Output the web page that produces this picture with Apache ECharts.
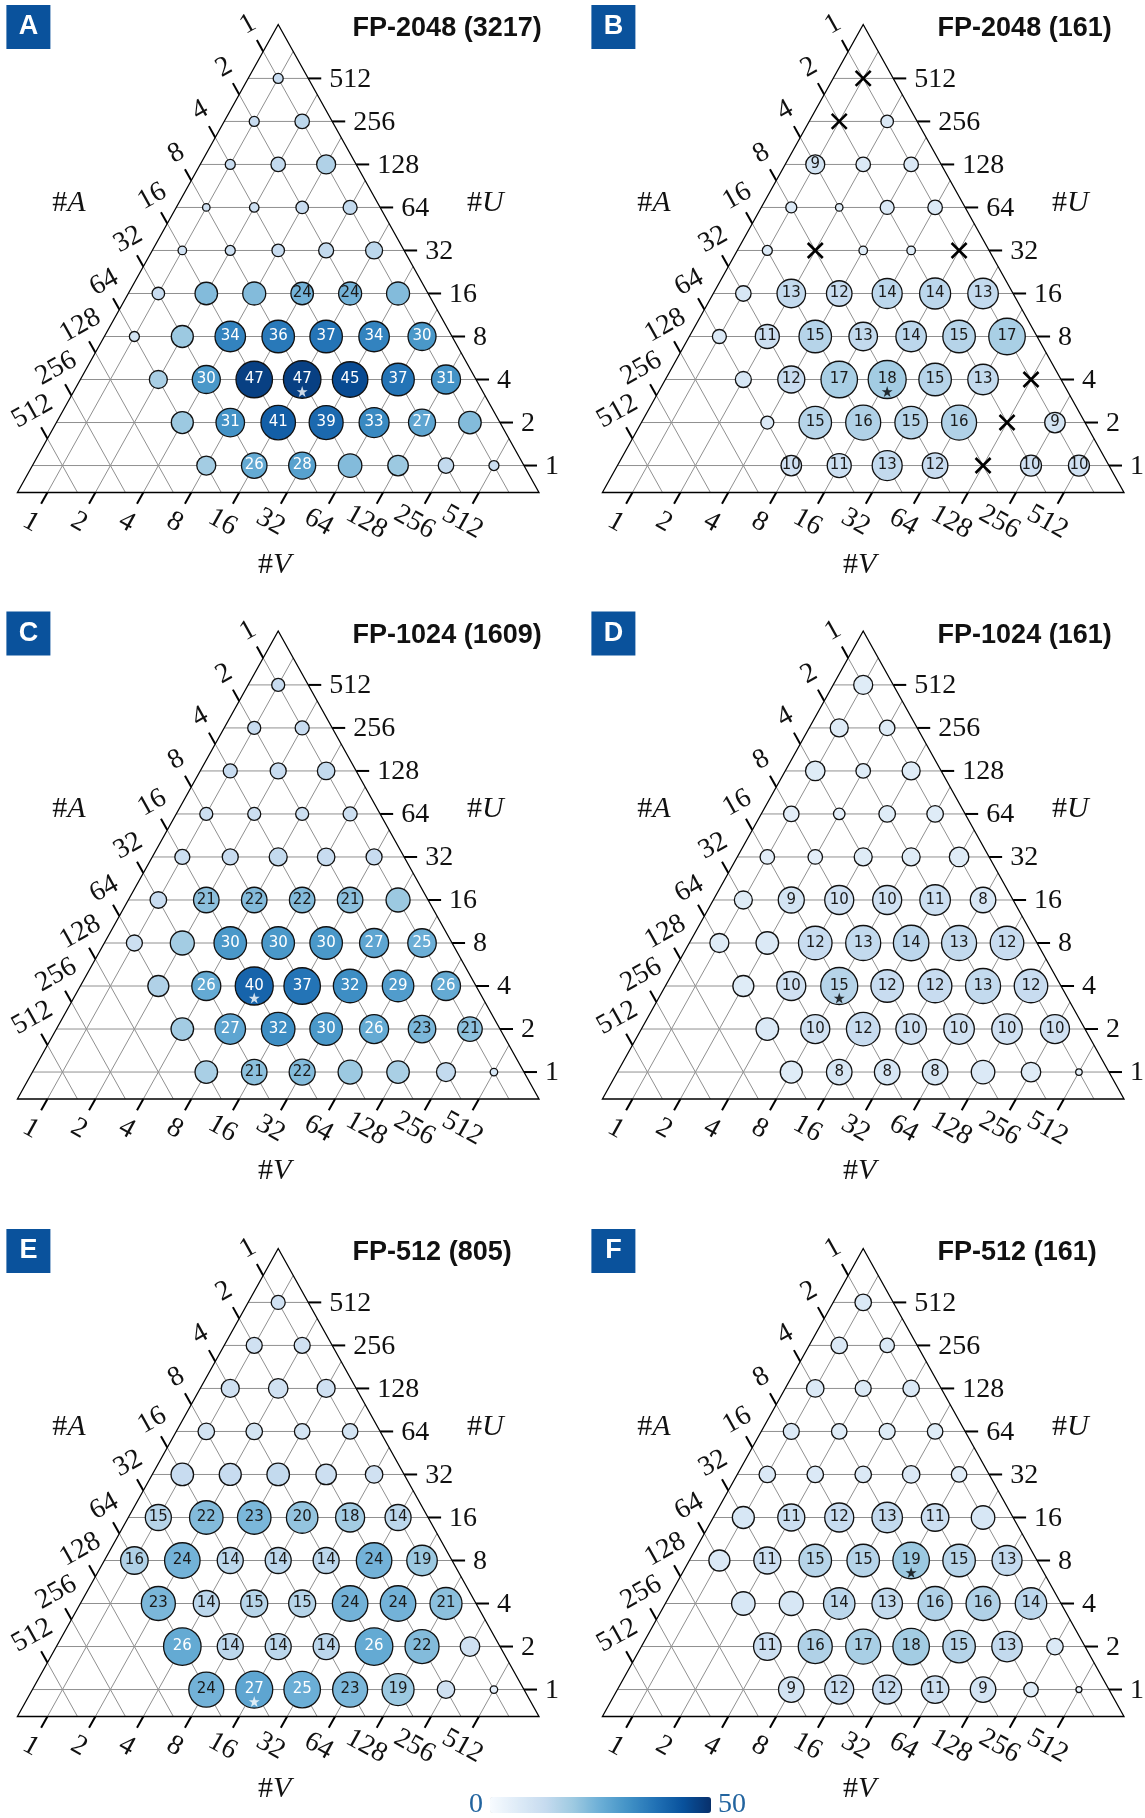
<!DOCTYPE html>
<html>
<head>
<meta charset="utf-8">
<script src="https://cdn.jsdelivr.net/npm/echarts@6/dist/echarts.min.js"></script>
<style>
  html, body { margin: 0; padding: 0; background: #ffffff; }
  #chart { width: 1145px; height: 1818px; }
</style>
</head>
<body>
<div id="chart"></div>
<script>
// Tick labels shared by the three ternary axes (#A, #U, #V), powers of two.
const TICK_LABELS = ['1', '2', '4', '8', '16', '32', '64', '128', '256', '512'];
const EXP_MAX = 9;          // log2(512): exponents of #A, #U, #V add up to this
const MIN_UV = 3;           // cells need log2(#U) + log2(#V) >= 3
// log2(#U) of each row, top to bottom
const ROW_U = [9, 8, 7, 6, 5, 4, 3, 2, 1, 0];

const PANEL_LETTERS = ['A', 'B', 'C', 'D', 'E', 'F'];
const PANEL_TITLES = ['FP-2048 (3217)', 'FP-2048 (161)', 'FP-1024 (1609)',
                      'FP-1024 (161)', 'FP-512 (805)', 'FP-512 (161)'];

// Cell values per row (left to right, increasing #V); null = infeasible cell (cross)
const A_VALUES = [
  [12], [12, 14], [12, 13, 16], [10, 11, 12, 13], [10, 11, 12, 13, 14],
  [12, 22, 22, 24, 24, 22], [9, 19, 34, 36, 37, 34, 30], [17, 30, 47, 47, 45, 37, 31],
  [19, 31, 41, 39, 33, 27, 22], [18, 26, 28, 22, 19, 13, 11]
];
const A_SIZES = [
  [10], [10, 14.5], [10, 14.5, 19], [7.5, 9.5, 12.5, 14], [8.5, 10, 12.5, 15, 17],
  [12.5, 22.5, 23, 22.5, 23, 23], [10, 22, 30.5, 32.5, 32.5, 30.5, 28],
  [18, 28, 36.5, 37.5, 35.5, 32.5, 29], [22, 28.5, 34.5, 34, 30, 27, 22.5],
  [19, 25.5, 27, 23.5, 20.5, 15.5, 10]
];

const B_VALUES = [
  [null], [null, 7], [9, 7, 7], [7, 6, 7, 7], [7, null, 6, 6, null],
  [8, 13, 12, 14, 14, 13], [7, 11, 15, 13, 14, 15, 17], [8, 12, 17, 18, 15, 13, null],
  [7, 15, 16, 15, 16, null, 9], [10, 11, 13, 12, null, 10, 10]
];
const B_SIZES = [
  [0], [0, 12.5], [19, 14.5, 14.5], [11, 7.5, 14, 14.5], [10, 0, 8.5, 8.5, 0],
  [15.5, 28.5, 25.5, 30, 31, 30.5], [14, 24, 32.5, 28.5, 30.5, 32.5, 36.5],
  [16, 27, 36.5, 38, 32.5, 30.5, 0], [13, 32.5, 35, 32.5, 35, 0, 20.5],
  [20.5, 24, 30, 25.5, 0, 21, 21]
];

const C_VALUES = [
  [12], [12, 12], [12, 12, 13], [11, 11, 11, 11], [11, 12, 13, 12, 12],
  [12, 21, 22, 22, 21, 19], [11, 18, 30, 30, 30, 27, 25], [16, 26, 40, 37, 32, 29, 26],
  [18, 27, 32, 30, 26, 23, 21], [17, 21, 22, 19, 17, 13, 8]
];
const C_SIZES = [
  [13], [13, 14], [14, 16, 17.5], [13, 13, 13, 14], [15, 16, 18, 17.5, 16],
  [16.5, 25.5, 25.5, 25.5, 25.5, 24], [16, 24, 32.5, 32.5, 32.5, 29, 28.5],
  [21, 29, 38, 36.5, 33.5, 31.5, 29], [22.5, 30.5, 33.5, 32.5, 29, 27.5, 24.5],
  [22.5, 25.5, 26, 24, 22.5, 19, 7.5]
];

const D_VALUES = [
  [6], [6, 6], [6, 6, 6], [5, 5, 6, 6], [5, 5, 6, 6, 6],
  [6, 9, 10, 10, 11, 8], [6, 7, 12, 13, 14, 13, 12], [6, 10, 15, 12, 12, 13, 12],
  [7, 10, 12, 10, 10, 10, 10], [6, 8, 8, 8, 7, 6, 4]
];
const D_SIZES = [
  [19], [18, 15.5], [19.5, 14.5, 18], [15.5, 11.5, 16.5, 16.5], [14.5, 14.5, 18, 18, 19.5],
  [18, 26, 29, 29, 30.5, 25.5], [19, 22.5, 33.5, 35, 35.5, 35, 33.5],
  [21, 29, 37, 32.5, 33.5, 35, 33.5], [22.5, 29, 33.5, 30.5, 30.5, 30.5, 29],
  [22, 25.5, 25.5, 25.5, 23.5, 19.5, 6.5]
];

const E_VALUES = [
  [10], [10, 10], [10, 10, 10], [9, 9, 9, 9], [12, 12, 13, 11, 10],
  [15, 22, 23, 20, 18, 14], [16, 24, 14, 14, 14, 24, 19], [23, 14, 15, 15, 24, 24, 21],
  [26, 14, 14, 14, 26, 22, 10], [24, 27, 25, 23, 19, 10, 5]
];
const E_SIZES = [
  [14], [16, 16], [18, 19.5, 18], [16.5, 16.5, 15.5, 15.5], [22.5, 22, 22.5, 20.5, 17.5],
  [26, 33.5, 33.5, 31.5, 29, 26], [27.5, 35.5, 26, 26, 26, 35.5, 30.5],
  [34, 26, 27, 27, 35.5, 35.5, 32], [37.5, 26, 26, 26, 37.5, 34, 19.5],
  [35, 37, 36.5, 35, 32, 17.5, 7.5]
];

const F_VALUES = [
  [7], [7, 7], [7, 7, 7], [7, 6, 6, 6], [7, 7, 7, 7, 6],
  [8, 11, 12, 13, 11, 8], [7, 11, 15, 15, 19, 15, 13], [8, 8, 14, 13, 16, 16, 14],
  [11, 16, 17, 18, 15, 13, 7], [9, 12, 12, 11, 9, 6, 3]
];
const F_SIZES = [
  [16.5], [16.5, 14.5], [17.5, 16, 16.5], [16, 15.5, 16, 15.5], [16.5, 16.5, 16.5, 17.5, 15.5],
  [22, 27, 29, 30.5, 27.5, 23.5], [21, 27, 32.5, 32.5, 36.5, 32.5, 30],
  [23.5, 24, 31.5, 30.5, 34, 34, 31.5], [27.5, 34, 35, 36.5, 32.5, 30.5, 16.5],
  [25.5, 29, 29, 27.5, 25.5, 14.5, 6]
];

// Smallest value that gets a number printed in its circle
const LABEL_MIN = [24, 9, 21, 8, 14, 9];
// Starred (best) cell of each panel: [log2 #U, log2 #V]
const BEST = [[2, 4], [2, 4], [2, 3], [2, 3], [0, 4], [3, 4]];
const STAR_COLORS = ['#ffffff', '#000000', '#ffffff', '#000000', '#ffffff', '#000000'];

const COLOR_MIN = 0, COLOR_MAX = 50;
const BLUES = ['#f7fbff', '#deebf7', '#c6dbef', '#9ecae1', '#6baed6',
               '#4292c6', '#2171b5', '#08519c', '#08306b'];

const VALUES = [A_VALUES, B_VALUES, C_VALUES, D_VALUES, E_VALUES, F_VALUES];
const SIZES = [A_SIZES, B_SIZES, C_SIZES, D_SIZES, E_SIZES, F_SIZES];

// ---- layout ----
const L = 10.88;                    // triangle side in exponent units
const OFF = (L - EXP_MAX) / 3;      // inset of the exponent-0 grid line from each edge
const TRI_W = 521.6, TRI_H = 468;
const COL_X = [17.4, 602.4];
const ROW_Y = [24.5, 631, 1248.5];
const TICK_LEN = 13;
const SERIF = '"Liberation Serif", "DejaVu Serif", serif';
const SANS = '"Liberation Sans", Arial, sans-serif';
const GRID_STYLE = { stroke: '#909090', lineWidth: 1, fill: null };
const TICK_STYLE = { stroke: '#000000', lineWidth: 2, fill: null };

// ternary exponents -> cartesian data coordinates of the panel
function tern(u, v) {
  const up = u + OFF, vp = v + OFF;
  return [up / 2 + vp, up];
}

function seg(a, b, style) {
  return { type: 'line', shape: { x1: a[0], y1: a[1], x2: b[0], y2: b[1] }, style: style };
}
function unit(a, b) {
  const dx = b[0] - a[0], dy = b[1] - a[1], n = Math.hypot(dx, dy);
  return [dx / n, dy / n];
}
function tickText(s, x, y, rot, align) {
  return {
    type: 'text', x: x, y: y, rotation: rot,
    style: { text: s, fontSize: 28, fontFamily: SERIF, fill: '#111111',
             align: align, verticalAlign: 'middle' }
  };
}

// grid lines, ticks and tick labels for exponent k on all three axes
function frameItem(params, api) {
  const k = api.value(0);
  const t = k + OFF;
  const P = (x, y) => api.coord([x, y]);
  const out = [];
  out.push(seg(P(t / 2, t), P(L - t / 2, t), GRID_STYLE));               // constant #U
  out.push(seg(P(t, 0), P(t + (L - t) / 2, L - t), GRID_STYLE));         // constant #V
  out.push(seg(P(L - t, 0), P((L - t) / 2, L - t), GRID_STYLE));         // constant #A

  // #U on the right edge
  const r = P(L - t / 2, t);
  out.push(seg(r, [r[0] + TICK_LEN, r[1]], TICK_STYLE));
  out.push(tickText(TICK_LABELS[k], r[0] + TICK_LEN + 8, r[1] + 1, 0, 'left'));

  // #V on the bottom edge
  const b = P(t, 0);
  const db = unit(b, P(t - 0.5, -1));
  out.push(seg(b, [b[0] + db[0] * TICK_LEN, b[1] + db[1] * TICK_LEN], TICK_STYLE));
  out.push(tickText(TICK_LABELS[k], b[0] + db[0] * 34, b[1] + db[1] * 34,
                    -Math.atan2(-db[0], db[1]), 'center'));

  // #A on the left edge
  const lx = (L - t) / 2, ly = L - t;
  const l = P(lx, ly);
  const dl = unit(l, P(lx - 0.5, ly + 1));
  out.push(seg(l, [l[0] + dl[0] * TICK_LEN, l[1] + dl[1] * TICK_LEN], TICK_STYLE));
  out.push(tickText(TICK_LABELS[k], l[0] + dl[0] * 31, l[1] + dl[1] * 31,
                    -Math.atan2(dl[0], -dl[1]), 'center'));
  return { type: 'group', children: out };
}

function outlineItem(params, api) {
  const p = [api.coord([0, 0]), api.coord([L, 0]), api.coord([L / 2, L])];
  return { type: 'polygon', shape: { points: p },
           style: { stroke: '#000000', lineWidth: 1.3, fill: null } };
}

function crossItem(params, api) {
  const c = api.coord([api.value(0), api.value(1)]);
  const h = 7.5, st = { stroke: '#000000', lineWidth: 2.6, fill: null };
  return { type: 'group', children: [
    seg([c[0] - h, c[1] - h], [c[0] + h, c[1] + h], st),
    seg([c[0] - h, c[1] + h], [c[0] + h, c[1] - h], st)
  ] };
}

const STAR_PATH = 'path://M50,0 L61.8,35.1 L98.9,35.1 L68.9,56.8 L80.3,91.9 L50,70.2 L19.7,91.9 L31.1,56.8 L1.1,35.1 L38.2,35.1 Z';

const grids = [], xAxes = [], yAxes = [], series = [], graphics = [], circleSeries = [];

PANEL_LETTERS.forEach(function (letter, i) {
  const px = COL_X[i % 2], py = ROW_Y[Math.floor(i / 2)];
  grids.push({ left: px, top: py, width: TRI_W, height: TRI_H });
  xAxes.push({ gridIndex: i, type: 'value', min: 0, max: L, show: false });
  yAxes.push({ gridIndex: i, type: 'value', min: 0, max: L, show: false });

  series.push({
    type: 'custom', xAxisIndex: i, yAxisIndex: i, clip: false, z: 1, silent: true,
    data: TICK_LABELS.map(function (s, k) { return [k, 0]; }),
    renderItem: frameItem
  });
  series.push({
    type: 'custom', xAxisIndex: i, yAxisIndex: i, clip: false, z: 2, silent: true,
    data: [[0, 0]], renderItem: outlineItem
  });

  const circles = [], crosses = [];
  VALUES[i].forEach(function (row, r) {
    const u = ROW_U[r];
    row.forEach(function (val, j) {
      const v = Math.max(0, MIN_UV - u) + j;
      const xy = tern(u, v);
      if (val === null) { crosses.push(xy); return; }
      const labelled = val >= LABEL_MIN[i];
      circles.push({
        value: [xy[0], xy[1], val, SIZES[i][r][j]],
        label: { show: labelled, color: val >= 25 ? '#ffffff' : '#1a1a1a' }
      });
    });
  });

  circleSeries.push(series.length);
  series.push({
    type: 'scatter', xAxisIndex: i, yAxisIndex: i, z: 3, silent: true,
    symbol: 'circle',
    symbolSize: function (d) { return d[3]; },
    itemStyle: { borderColor: '#111111', borderWidth: 1.3, opacity: 1 },
    label: {
      position: 'inside', fontSize: 15, fontFamily: '"DejaVu Sans", sans-serif',
      formatter: function (p) { return String(p.value[2]); }
    },
    data: circles
  });

  const best = BEST[i];
  series.push({
    type: 'scatter', xAxisIndex: i, yAxisIndex: i, z: 4, silent: true,
    symbol: STAR_PATH, symbolSize: 11, symbolOffset: [0, 12],
    itemStyle: { color: STAR_COLORS[i] },
    data: [tern(best[0], best[1])]
  });

  if (crosses.length) {
    series.push({
      type: 'custom', xAxisIndex: i, yAxisIndex: i, clip: false, z: 4, silent: true,
      data: crosses, renderItem: crossItem
    });
  }

  // panel letter, title and axis names
  graphics.push({ type: 'rect', left: px - 11, top: py - 19.5,
                  shape: { width: 44, height: 44 }, style: { fill: '#0a529c' } });
  graphics.push({ type: 'text', x: px + 11, y: py + 2.5,
                  style: { text: letter, fontSize: 27, fontWeight: 'bold', fontFamily: SANS,
                           fill: '#ffffff', align: 'center', verticalAlign: 'middle' } });
  graphics.push({ type: 'text', x: px + 335.2, y: py + 4.5,
                  style: { text: PANEL_TITLES[i], fontSize: 27, fontWeight: 'bold',
                           fontFamily: SANS, fill: '#111111', align: 'left', verticalAlign: 'middle' } });
  const axisName = function (name, x, y) {
    return { type: 'text', x: x, y: y,
             style: { text: '{n|#}{i|' + name + '}', align: 'center', verticalAlign: 'middle',
                      rich: { n: { fontSize: 30, fontFamily: SERIF, fill: '#111111' },
                              i: { fontSize: 30, fontFamily: SERIF, fontStyle: 'italic', fill: '#111111' } } } };
  };
  graphics.push(axisName('A', px + 51.6, py + 178.5));
  graphics.push(axisName('U', px + 468, py + 178.5));
  graphics.push(axisName('V', px + 257.2, py + 540.5));
});

const chart = echarts.init(document.getElementById('chart'), null, { renderer: 'canvas' });
chart.setOption({
  animation: false,
  backgroundColor: '#ffffff',
  grid: grids,
  xAxis: xAxes,
  yAxis: yAxes,
  visualMap: {
    type: 'continuous', min: COLOR_MIN, max: COLOR_MAX, orient: 'horizontal',
    seriesIndex: circleSeries, dimension: 2, calculable: false, hoverLink: false,
    inRange: { color: BLUES },
    itemWidth: 16, itemHeight: 221, text: [String(COLOR_MAX), String(COLOR_MIN)], textGap: 7,
    left: 469, top: 1791, padding: 0,
    textStyle: { color: '#22649f', fontSize: 28, fontFamily: SERIF }
  },
  graphic: graphics,
  series: series
});
</script>
</body>
</html>
